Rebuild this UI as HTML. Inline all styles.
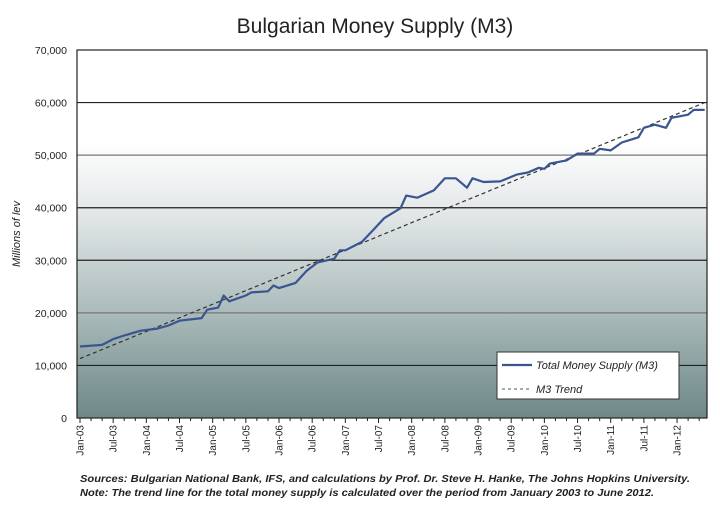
<!DOCTYPE html>
<html><head><meta charset="utf-8"><style>
body{margin:0;background:#fff;}
svg{display:block;font-family:"Liberation Sans",Arial,sans-serif;}
</style></head><body>
<svg id="chart" width="720" height="513" viewBox="0 0 720 513">
<defs>
<linearGradient id="bg" x1="0" y1="0" x2="0" y2="1">
<stop offset="0" stop-color="#ffffff"/>
<stop offset="0.25" stop-color="#ffffff"/>
<stop offset="0.45" stop-color="#e2e6e7"/>
<stop offset="0.7" stop-color="#adbdbd"/>
<stop offset="1" stop-color="#6e8888"/>
</linearGradient>
</defs>
<text x="375" y="33" text-anchor="middle" font-size="21" fill="#222">Bulgarian Money Supply (M3)</text>
<rect x="77" y="50" width="630" height="368" fill="url(#bg)"/>
<g id="grid"></g>
<g id="yticks"></g>
<g id="xticks"></g>
<text transform="translate(20,234) rotate(-90)" text-anchor="middle" font-size="11" font-style="italic" fill="#222">Millions of lev</text>
<path id="trend" fill="none" stroke="#333" stroke-width="1.2" stroke-dasharray="4,3"/>
<path id="m3" fill="none" stroke="#3a5590" stroke-width="2.2" stroke-linejoin="round"/>
<rect x="77" y="50" width="630" height="368" fill="none" stroke="#222" stroke-width="1.2"/>
<g>
<rect x="497" y="352" width="182" height="47" fill="#fff" stroke="#333" stroke-width="1"/>
<line x1="502" y1="365" x2="532" y2="365" stroke="#3a5590" stroke-width="2.2"/>
<text x="536" y="369" font-size="11" font-style="italic" fill="#222">Total Money Supply (M3)</text>
<line x1="502" y1="389" x2="532" y2="389" stroke="#555" stroke-width="1" stroke-dasharray="3,3"/>
<text x="536" y="393" font-size="11" font-style="italic" fill="#222">M3 Trend</text>
</g>
<text x="80" y="482" font-size="10.5" font-weight="bold" font-style="italic" fill="#222" textLength="610" lengthAdjust="spacingAndGlyphs">Sources: Bulgarian National Bank, IFS, and calculations by Prof. Dr. Steve H. Hanke, The Johns Hopkins University.</text>
<text x="80" y="496" font-size="10.5" font-weight="bold" font-style="italic" fill="#222" textLength="574" lengthAdjust="spacingAndGlyphs">Note: The trend line for the total money supply is calculated over the period from January 2003 to June 2012.</text>
</svg>
<script>
const yTicks=[0,10000,20000,30000,40000,50000,60000,70000];
const yTickLabels=["0","10,000","20,000","30,000","40,000","50,000","60,000","70,000"];
const xTickLabels=["Jan-03","Jul-03","Jan-04","Jul-04","Jan-05","Jul-05","Jan-06","Jul-06","Jan-07","Jul-07","Jan-08","Jul-08","Jan-09","Jul-09","Jan-10","Jul-10","Jan-11","Jul-11","Jan-12"];
const monthIdx=[0,4,6,8,11,14,16,18,22,23,25,26,27,30,31,34,35,36,39,41,43,46,47,48,51,53,55,58,59,61,64,66,68,70,71,73,76,79,81,83,84,85,88,90,93,94,96,98,101,102,104,106,107,110,111,113];
const m3Values=[13600,13900,15000,15700,16600,17000,17600,18500,19000,20600,21000,23300,22200,23300,23900,24100,25200,24700,25700,28000,29600,30300,31900,31900,33500,35700,38000,39900,42300,41900,43300,45600,45600,43800,45600,44900,45000,46300,46700,47600,47400,48400,49000,50300,50300,51200,50900,52400,53400,55200,55800,55200,57100,57700,58600,58600];
const trendMonths=[0,113];
const trendValues=[11300,60000];
const NS="http://www.w3.org/2000/svg";
const X0=80, PXM=33.17/6, Y0=418, YT=50, YMAX=70000;
function xs(m){return X0+m*PXM;}
function ys(v){return Y0-(v/YMAX)*(Y0-YT);}
const svg=document.getElementById('chart');
const grid=document.getElementById('grid'), yt=document.getElementById('yticks'), xt=document.getElementById('xticks');
yTicks.forEach((v,i)=>{
  if(v>0&&v<YMAX){
    const l=document.createElementNS(NS,'line');
    l.setAttribute('x1',77);l.setAttribute('x2',707);l.setAttribute('y1',ys(v));l.setAttribute('y2',ys(v));
    l.setAttribute('stroke',(v===50000||v===20000)?'#777':'#222');l.setAttribute('stroke-width','1.2');
    
    
    grid.appendChild(l);
  }
  const t=document.createElementNS(NS,'text');
  t.setAttribute('x',67);t.setAttribute('y',ys(v)+4);t.setAttribute('text-anchor','end');t.setAttribute('font-size','10.5');t.setAttribute('fill','#222');
  t.textContent=yTickLabels[i];
  
  
  yt.appendChild(t);
});
for(let m=0;m<=112;m+=2){
  const l=document.createElementNS(NS,'line');
  const x=xs(m);
  l.setAttribute('x1',x);l.setAttribute('x2',x);l.setAttribute('y1',418);l.setAttribute('y2',m%6===0?423:421);
  l.setAttribute('stroke','#222');l.setAttribute('stroke-width','1');
  
  
  xt.appendChild(l);
}
xTickLabels.forEach((s,i)=>{
  const t=document.createElementNS(NS,'text');
  const x=xs(i*6)+3.5;
  t.setAttribute('transform','translate('+x+',425) rotate(-90)');
  t.setAttribute('text-anchor','end');t.setAttribute('font-size','10');t.setAttribute('fill','#222');
  t.textContent=s;
  
  
  xt.appendChild(t);
});
document.getElementById('m3').setAttribute('d',monthIdx.map((m,i)=>(i?'L':'M')+xs(m).toFixed(1)+','+ys(m3Values[i]).toFixed(1)).join(''));
document.getElementById('trend').setAttribute('d',trendMonths.map((m,i)=>(i?'L':'M')+xs(m).toFixed(1)+','+ys(trendValues[i]).toFixed(1)).join(''));
</script>
</body></html>
